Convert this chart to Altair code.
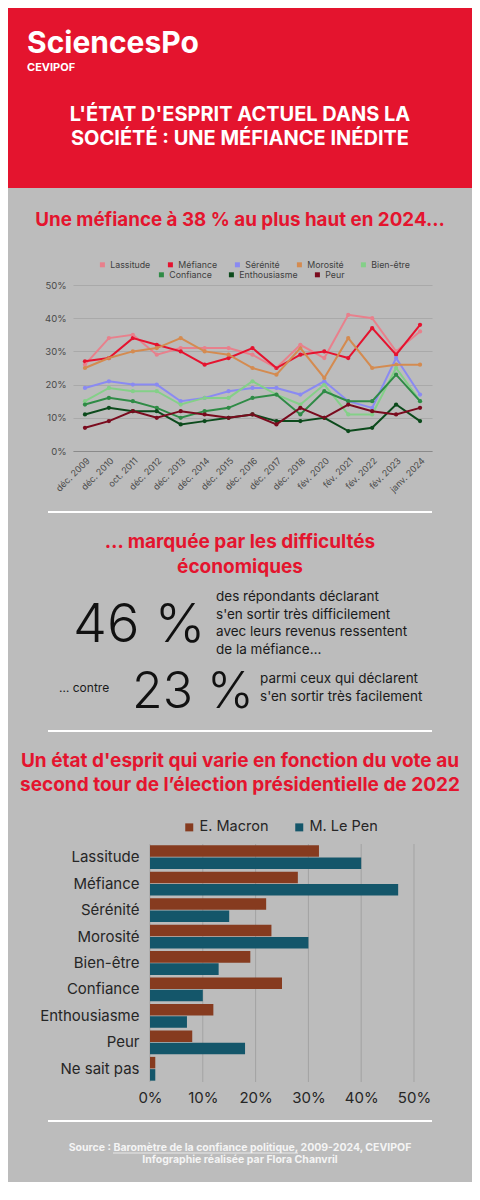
import altair as alt
import pandas as pd

# ---------------- data ----------------
dates = ["déc. 2009", "déc. 2010", "oct. 2011", "déc. 2012", "déc. 2013",
         "déc. 2014", "déc. 2015", "déc. 2016", "déc. 2017", "déc. 2018",
         "fév. 2020", "fév. 2021", "fév. 2022", "fév. 2023", "janv. 2024"]

series_row1 = ["Lassitude", "Méfiance", "Sérénité", "Morosité", "Bien-être"]
series_row2 = ["Confiance", "Enthousiasme", "Peur"]

lassitude = [26, 34, 35, 29, 31, 31, 31, 29, 25, 32, 28, 41, 40, 30, 36]
mefiance = [27, 28, 34, 32, 30, 26, 28, 31, 25, 29, 30, 28, 37, 29, 38]
serenite = [19, 21, 20, 20, 15, 16, 18, 19, 19, 17, 21, 15, 13, 28, 17]
morosite = [25, 28, 30, 31, 34, 30, 29, 25, 23, 31, 22, 34, 25, 26, 26]
bienetre = [15, 19, 18, 18, 14, 16, 16, 21, 17, 14, 20, 11, 11, 25, 15]
confiance = [14, 16, 15, 13, 10, 12, 13, 16, 17, 11, 18, 15, 15, 23, 15]
enthousiasme = [11, 13, 12, 12, 8, 9, 10, 11, 9, 9, 10, 6, 7, 14, 9]
peur = [7, 9, 12, 10, 12, 11, 10, 11, 8, 13, 10, 14, 12, 11, 13]

colors_row1 = ["#e8808c", "#e5132f", "#8a8af2", "#d48b50", "#84d088"]
colors_row2 = ["#2f8b46", "#0c4a1c", "#7a0b1e"]
pct_ticks = [0, 10, 20, 30, 40, 50]

categories = ["Lassitude", "Méfiance", "Sérénité", "Morosité", "Bien-être",
              "Confiance", "Enthousiasme", "Peur", "Ne sait pas"]
candidates = ["E. Macron", "M. Le Pen"]
macron = [32, 28, 22, 23, 19, 25, 12, 8, 1]
lepen = [40, 47, 15, 30, 13, 10, 7, 18, 1]
cand_colors = ["#863b1f", "#14566a"]

# ---------------- helpers ----------------
W = 464
FONT = "Inter"
RED = "#e4142e"
BG = "#bcbcbc"
INK = "#1a1a1a"
FOOT = "#f4f4f4"


def long_df(names, arrays):
    rows = []
    for n, arr in zip(names, arrays):
        for d, v in zip(dates, arr):
            rows.append({"date": d, "serie": n, "value": v})
    return pd.DataFrame(rows)


def txt(s, x, y, size, color="white", weight="bold", align="center", lh=None):
    kw = {}
    if lh is not None:
        kw = dict(lineBreak="\n", lineHeight=lh)
    return alt.Chart(pd.DataFrame({"t": [s]})).mark_text(
        font=FONT, fontSize=size, fontWeight=weight, color=color,
        align=align, baseline="alphabetic", **kw
    ).encode(x=alt.value(x), y=alt.value(y), text="t:N")


def hrule(x1, x2, y, color="white", width=2):
    return alt.Chart(pd.DataFrame({"a": [0]})).mark_rule(
        color=color, strokeWidth=width
    ).encode(x=alt.value(x1), x2=alt.value(x2), y=alt.value(y))


one = pd.DataFrame({"a": [0]})

# ---------------- panel 1 : header + line chart ----------------
df1 = long_df(series_row1, [lassitude, mefiance, serenite, morosite, bienetre])
df2 = long_df(series_row2, [confiance, enthousiasme, peur])

xsc = alt.Scale(type="point", domain=dates, range=[65, 424], padding=0.5)
ysc = alt.Scale(domain=[0, 50], range=[443, 277])

x_enc = alt.X("date:N", scale=xsc, axis=alt.Axis(
    title=None, labelAngle=-45, labelAlign="right", labelBaseline="top",
    labelFontSize=9, labelColor="#4a4a4a", labelFont=FONT, domainColor="#8a8a8a",
    ticks=False, grid=False, labelPadding=5))
y_enc = alt.Y("value:Q", scale=ysc, axis=alt.Axis(
    title=None, values=pct_ticks, labelExpr="datum.value + '%'",
    labelFontSize=9.5, labelColor="#4a4a4a", labelFont=FONT, domain=False,
    ticks=False, gridColor="#a9a9a9", offset=-65, labelPadding=7,
    labelFlush=False))

leg_common = dict(orient="none", direction="horizontal", title=None,
                  symbolType="square", symbolSize=25, labelFontSize=8.8,
                  labelFont=FONT, labelColor="#404040", columnPadding=15,
                  labelOffset=3.5, symbolStrokeWidth=0)

# points first so that their (filled-square) legend is the one kept
pts1 = alt.Chart(df1).mark_circle(size=18, opacity=1).encode(
    x=x_enc, y=y_enc,
    color=alt.Color("serie:N", scale=alt.Scale(domain=series_row1, range=colors_row1),
                    legend=alt.Legend(legendX=90, legendY=252, **leg_common)))
lines1 = alt.Chart(df1).mark_line(strokeWidth=2).encode(
    x=x_enc, y=y_enc,
    color=alt.Color("serie:N", scale=alt.Scale(domain=series_row1, range=colors_row1), legend=None))
pts2 = alt.Chart(df2).mark_circle(size=18, opacity=1).encode(
    x=x_enc, y=y_enc,
    fill=alt.Fill("serie:N", scale=alt.Scale(domain=series_row2, range=colors_row2),
                  legend=alt.Legend(legendX=149, legendY=262, **leg_common)))
lines2 = alt.Chart(df2).mark_line(strokeWidth=2).encode(
    x=x_enc, y=y_enc,
    stroke=alt.Stroke("serie:N", scale=alt.Scale(domain=series_row2, range=colors_row2), legend=None))

header = alt.Chart(one).mark_rect(color=RED).encode(
    x=alt.value(0), x2=alt.value(W), y=alt.value(0), y2=alt.value(180))

panel1 = alt.layer(
    header,
    txt("SciencesPo", 19, 45, 30, align="left"),
    txt("CEVIPOF", 19, 63, 11, align="left"),
    txt("L'ÉTAT D'ESPRIT ACTUEL DANS LA\nSOCIÉTÉ : UNE MÉFIANCE INÉDITE", 232, 113, 20, lh=24),
    txt("Une méfiance à 38 % au plus haut en 2024…", 232, 218, 18.8, color=RED),
    pts1, lines1, pts2, lines2,
).properties(width=W, height=443)

# ---------------- panel 2 : key figures + bar chart ----------------
bar_rows = []
for c, m, l in zip(categories, macron, lepen):
    bar_rows.append({"cat": c, "cand": candidates[0], "val": m})
    bar_rows.append({"cat": c, "cand": candidates[1], "val": l})
bdf = pd.DataFrame(bar_rows)

bx_axis = alt.Axis(title=None, values=pct_ticks, labelExpr="datum.value + '%'",
                   domain=False, ticks=False, grid=False, labelFlush=False,
                   labelFontSize=15, labelColor="#262626", labelFont=FONT,
                   labelPadding=8)
bx_scale = alt.Scale(domain=[0, 50], range=[142, 406])

grid_b = alt.Chart(pd.DataFrame({"val": pct_ticks})).mark_rule(
    color="#a3a3a3", strokeWidth=1
).encode(x=alt.X("val:Q", scale=bx_scale, axis=bx_axis),
         y=alt.value(393), y2=alt.value(631))

bars = alt.Chart(bdf).mark_bar().encode(
    y=alt.Y("cat:N", scale=alt.Scale(domain=categories, range=[393, 631],
                                     paddingInner=0.1, paddingOuter=0.05),
            axis=alt.Axis(title=None, domain=False, ticks=False, labelFontSize=15,
                          labelColor="#262626", labelFont=FONT, labelPadding=11,
                          offset=-142)),
    yOffset=alt.YOffset("cand:N", scale=alt.Scale(domain=candidates, paddingInner=0.06)),
    x=alt.X("val:Q", scale=bx_scale, axis=bx_axis),
    color=alt.Color("cand:N", scale=alt.Scale(domain=candidates, range=cand_colors),
                    legend=alt.Legend(orient="none", legendX=174, legendY=369,
                                      direction="horizontal", title=None,
                                      symbolType="square", symbolSize=64,
                                      labelFontSize=14.5, labelFont=FONT,
                                      labelColor="#262626", columnPadding=23,
                                      labelOffset=3, symbolStrokeWidth=0)),
)

panel2 = alt.layer(
    hrule(40, 424, 61),
    txt("… marquée par les difficultés\néconomiques", 232, 97, 19, color=RED, lh=25),
    txt("46 %", 65, 191, 54, color="#111111", weight=300, align="left"),
    txt("des répondants déclarant\ns'en sortir très difficilement\navec leurs revenus ressentent\nde la méfiance…",
        208, 150, 13.5, color=INK, weight="normal", align="left", lh=17.5),
    txt("… contre", 51, 241, 12, color=INK, weight="normal", align="left"),
    txt("23 %", 124, 257, 50, color="#111111", weight=300, align="left"),
    txt("parmi ceux qui déclarent\ns'en sortir très facilement",
        252, 232, 13.5, color=INK, weight="normal", align="left", lh=18),
    hrule(40, 424, 280),
    txt("Un état d'esprit qui varie en fonction du vote au\nsecond tour de l’élection présidentielle de 2022",
        232, 316, 19, color=RED, lh=24),
    grid_b,
    bars,
).properties(width=W, height=631)

# ---------------- panel 3 : footer ----------------
panel3 = alt.layer(
    hrule(40, 424, 39),
    txt("Source : Baromètre de la confiance politique, 2009-2024, CEVIPOF\nInfographie réalisée par Flora Chanvril",
        232, 69, 10.5, color=FOOT, lh=11.5),
    hrule(105, 290, 71, color=FOOT, width=0.8),
).properties(width=W, height=100)

chart = alt.vconcat(panel1, panel2, panel3, spacing=0, bounds="flush").resolve_scale(
    x="independent", y="independent", color="independent", fill="independent",
    stroke="independent"
).configure(background=BG, padding=0).configure_view(strokeWidth=0)

chart.save("out.html", embed_options={"renderer": "svg", "actions": False})
